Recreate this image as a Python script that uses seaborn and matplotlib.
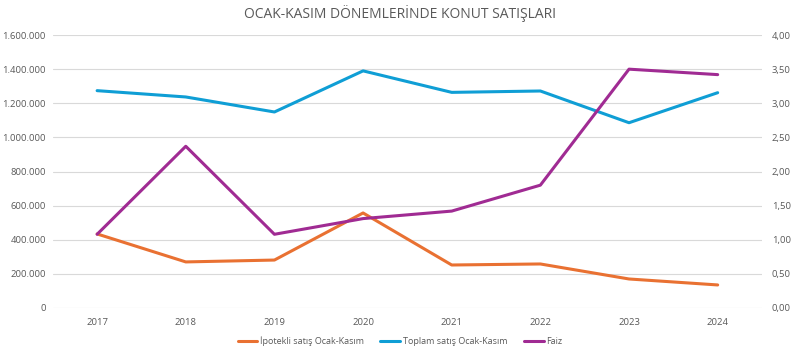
import pandas as pd
import numpy as np
import matplotlib.pyplot as plt
import seaborn as sns
from matplotlib.ticker import FuncFormatter, MultipleLocator

# Data
years = ["2017", "2018", "2019", "2020", "2021", "2022", "2023", "2024"]
ipotekli = [434000, 270000, 281000, 557000, 252000, 258000, 170000, 135000]
toplam = [1274000, 1237000, 1149000, 1390000, 1264000, 1272000, 1086000, 1262000]
faiz = [1.08, 2.37, 1.08, 1.31, 1.42, 1.80, 3.50, 3.42]

df = pd.DataFrame({
    "Yil": years,
    "İpotekli satış Ocak-Kasım": ipotekli,
    "Toplam satış Ocak-Kasım": toplam,
    "Faiz": faiz,
})
df["x"] = np.arange(len(years))

sns.set_theme(style="white")
plt.rcParams["font.family"] = ["Open Sans", "DejaVu Sans"]

grey = "#595959"
c_orange = "#E97132"
c_blue = "#0F9ED5"
c_purple = "#A02B93"

fig = plt.figure(figsize=(8, 3.54), dpi=100)
ax = fig.add_axes([0.066, 0.130, 0.8865, 0.771])
ax2 = ax.twinx()

sns.lineplot(ax=ax, data=df, x="x", y="İpotekli satış Ocak-Kasım", color=c_orange,
             linewidth=2.2, label="İpotekli satış Ocak-Kasım", legend=False)
sns.lineplot(ax=ax, data=df, x="x", y="Toplam satış Ocak-Kasım", color=c_blue,
             linewidth=2.2, label="Toplam satış Ocak-Kasım", legend=False)
sns.lineplot(ax=ax2, data=df, x="x", y="Faiz", color=c_purple,
             linewidth=2.2, label="Faiz", legend=False)

ax.set_xlim(-0.5, len(years) - 0.5)
ax.set_ylim(0, 1600000)
ax2.set_ylim(0, 4)
ax.yaxis.set_major_locator(MultipleLocator(200000))
ax2.yaxis.set_major_locator(MultipleLocator(0.5))
ax.yaxis.set_major_formatter(FuncFormatter(lambda v, p: f"{int(v):,}".replace(",", ".")))
ax2.yaxis.set_major_formatter(FuncFormatter(lambda v, p: f"{v:.2f}".replace(".", ",")))
ax.set_xticks(df["x"])
ax.set_xticklabels(years)

ax.grid(axis="y", color="#D9D9D9", linewidth=0.8)
ax.set_axisbelow(True)
for a in (ax, ax2):
    for s in a.spines.values():
        s.set_visible(False)
    a.set_xlabel("")
    a.set_ylabel("")
    a.tick_params(length=0, labelsize=6.8, labelcolor=grey, pad=7)
ax.tick_params(axis="y", pad=5)

fig.suptitle("OCAK-KASIM DÖNEMLERİNDE KONUT SATIŞLARI", fontsize=10, color=grey, y=0.985)

h1, l1 = ax.get_legend_handles_labels()
h2, l2 = ax2.get_legend_handles_labels()
fig.legend(h1 + h2, l1 + l2, loc="lower center", bbox_to_anchor=(0.5, 0.0), ncol=3,
           frameon=False, fontsize=6.5, labelcolor=grey, handlelength=2.2,
           handletextpad=0.3, columnspacing=1.8)

fig.savefig("out.png", dpi=100)
